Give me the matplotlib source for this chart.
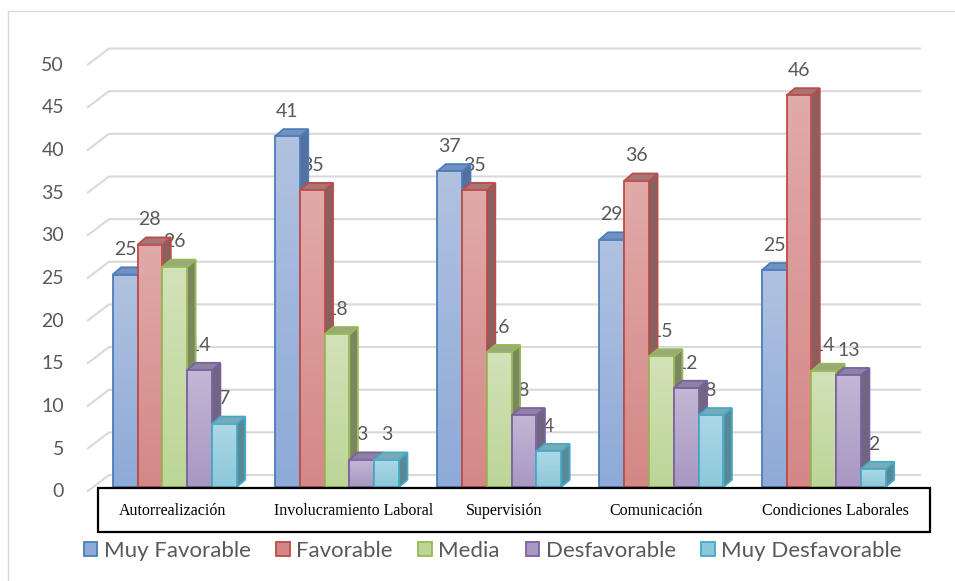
import matplotlib
matplotlib.use('Agg')
import matplotlib.pyplot as plt
import numpy as np
from matplotlib.patches import Polygon, Rectangle, Patch
from matplotlib.colors import LinearSegmentedColormap

# ---------------- data ----------------
categories = ['Autorrealización', 'Involucramiento Laboral', 'Supervisión',
              'Comunicación', 'Condiciones Laborales']
series_names = ['Muy Favorable', 'Favorable', 'Media', 'Desfavorable', 'Muy Desfavorable']
muy_favorable = [24.9, 41.1, 37.0, 29.0, 25.4]
favorable = [28.4, 34.8, 34.8, 35.9, 45.9]
media = [25.8, 17.9, 15.8, 15.3, 13.6]
desfavorable = [13.7, 3.2, 8.4, 11.6, 13.1]
muy_desfavorable = [7.4, 3.2, 4.2, 8.4, 2.1]
y_ticks = [0, 5, 10, 15, 20, 25, 30, 35, 40, 45, 50]

series_values = [muy_favorable, favorable, media, desfavorable, muy_desfavorable]

# colours: (front top, front bottom, edge, side, top face)
styles = [
    ('#b0c2e0', '#8eaad8', '#4a7ebb', '#55709f', '#7290c2'),
    ('#e0aaa9', '#d48886', '#be4b48', '#886060', '#a47676'),
    ('#d2e2b8', '#bcd597', '#98b954', '#7a8760', '#98a97a'),
    ('#c2b7d5', '#a898c2', '#7d60a0', '#6f6682', '#8c82a2'),
    ('#acd8e5', '#8dc8da', '#46aac5', '#598996', '#7aa9b7'),
]
TXT = '#595959'
GRID = '#d9d9d9'

# ---------------- layout ----------------
W, H = 955, 581
PX_X = 162.25       # pixels per category
PX_Y = 8.53         # pixels per unit
X0 = 112.7          # pixel of first bar's left edge
BASE = 487.0        # pixel (from top) of bar base


def dxp(px):
    return px / PX_X


def dyp(px):
    return px / PX_Y


def xd(px):
    return (px - X0) / PX_X


def yd(py):
    return (BASE - py) / PX_Y


BW = dxp(24.8)
DX = dxp(8.5)
DY = dyp(7.3)
FRONT_OFF = yd(491.7)
BACK_OFF = yd(475.0)

fig = plt.figure(figsize=(W / 100, H / 100), dpi=100)
ax = fig.add_axes([0, 0, 1, 1])
ax.set_axis_off()

# chart border
ax.plot([xd(8), xd(8)], [yd(581), yd(11)], color=GRID, lw=1.0, zorder=0)
ax.plot([xd(8), xd(955)], [yd(11), yd(11)], color=GRID, lw=1.0, zorder=0)

# gridlines (front slant + back wall)
for v in y_ticks:
    ax.plot([xd(87), xd(109), xd(921)],
            [v + FRONT_OFF, v + BACK_OFF, v + BACK_OFF],
            color=GRID, lw=1.5, zorder=1, solid_capstyle='butt')
    ax.text(xd(64), v + FRONT_OFF, str(v), ha='right', va='center',
            fontsize=14, color=TXT, family='Lato')

# bars
grad = np.linspace(0, 1, 64).reshape(-1, 1)
order = 0
for i in range(len(categories)):
    for s, vals in enumerate(series_values):
        v = vals[i]
        ftop, fbot, edge, side, topc = styles[s]
        z = 3 + order * 0.01
        order += 1
        x = i + s * BW
        # label (behind bars)
        ax.text(x + BW / 2, v + dyp(25), f'{v:.0f}', ha='center', va='center',
                fontsize=14, color=TXT, family='Lato', zorder=2)
        # side
        ax.add_patch(Polygon([(x + BW, 0), (x + BW + DX, DY), (x + BW + DX, v + DY), (x + BW, v)],
                             closed=True, facecolor=side, edgecolor=edge, lw=1.3,
                             joinstyle='miter', zorder=z))
        # top
        ax.add_patch(Polygon([(x, v), (x + DX, v + DY), (x + BW + DX, v + DY), (x + BW, v)],
                             closed=True, facecolor=topc, edgecolor=edge, lw=1.3,
                             joinstyle='miter', zorder=z))
        # front with gradient
        cmap = LinearSegmentedColormap.from_list('g%d' % s, [ftop, fbot])
        ax.imshow(grad, cmap=cmap, extent=(x, x + BW, 0, v), aspect='auto',
                  interpolation='bilinear', origin='upper', zorder=z + 0.001)
        ax.add_patch(Rectangle((x, 0), BW, v, facecolor='none', edgecolor=edge,
                               lw=1.3, joinstyle='miter', zorder=z + 0.002))

# category box
ax.add_patch(Rectangle((xd(98), yd(532)), xd(930) - xd(98), yd(488) - yd(532),
                       facecolor='white', edgecolor='black', lw=1.6, zorder=10))
label_px = [172.5, 354, 504.5, 656.5, 835]
for name, px in zip(categories, label_px):
    ax.text(xd(px), yd(511), name, ha='center', va='center', fontsize=11.5,
            family='Liberation Serif', color='black', zorder=11)

ax.set_xlim(xd(0), xd(W))
ax.set_ylim(yd(H), yd(0))

# legend
handles = [Patch(facecolor=st[1], edgecolor=st[2], lw=1.3) for st in styles]
fig.legend(handles, series_names, loc='center left',
           bbox_to_anchor=(84 / W, 1 - 551 / H), ncol=5, frameon=False,
           prop={'family': 'Lato', 'size': 16}, labelcolor=TXT,
           handlelength=0.6, handleheight=0.6, handletextpad=0.3,
           columnspacing=1.15, borderpad=0, borderaxespad=0)

fig.savefig('out.png', dpi=100)
